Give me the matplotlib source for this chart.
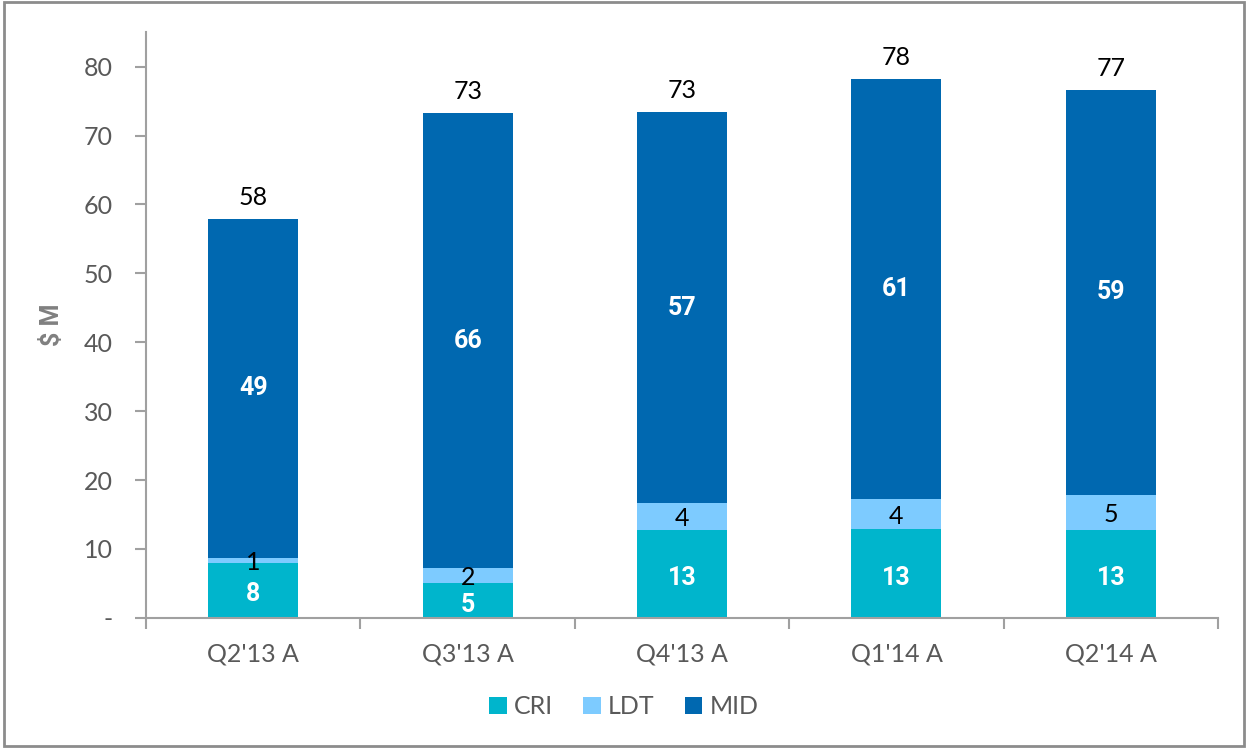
import matplotlib.pyplot as plt
import numpy as np
from matplotlib.patches import Rectangle

categories = ["Q2'13 A", "Q3'13 A", "Q4'13 A", "Q1'14 A", "Q2'14 A"]
cri = [8.0, 5.0, 12.7, 12.9, 12.7]
ldt = [0.7, 2.3, 3.9, 4.3, 5.2]
mid = [49.2, 65.9, 56.8, 61.0, 58.7]
cri_labels = ["8", "5", "13", "13", "13"]
ldt_labels = ["1", "2", "4", "4", "5"]
mid_labels = ["49", "66", "57", "61", "59"]
total_labels = ["58", "73", "73", "78", "77"]

colors = {"CRI": "#00B5CC", "LDT": "#7DCBFF", "MID": "#0068B0"}
gray = "#595959"
plt.rcParams["font.family"] = ["Lato", "DejaVu Sans"]
bold_family = ["Roboto", "DejaVu Sans"]

fig = plt.figure(figsize=(12.48, 7.48), dpi=100)
ax = fig.add_axes([0.117, 0.174, 0.859, 0.783])

x = np.arange(len(categories))
w = 0.42
cri_a = np.array(cri)
ldt_a = np.array(ldt)
mid_a = np.array(mid)

ax.bar(x, cri_a, w, color=colors["CRI"], label="CRI")
ax.bar(x, ldt_a, w, bottom=cri_a, color=colors["LDT"], label="LDT")
ax.bar(x, mid_a, w, bottom=cri_a + ldt_a, color=colors["MID"], label="MID")

for i in range(len(categories)):
    ax.text(x[i], cri_a[i] / 2 - 0.6, cri_labels[i], ha="center", va="center",
            color="white", fontsize=18, fontweight="bold", family=bold_family)
    ax.text(x[i], cri_a[i] + ldt_a[i] / 2 - 0.3, ldt_labels[i], ha="center", va="center",
            color="black", fontsize=18)
    ax.text(x[i], cri_a[i] + ldt_a[i] + mid_a[i] / 2, mid_labels[i], ha="center", va="center",
            color="white", fontsize=18, fontweight="bold", family=bold_family)
    total = cri_a[i] + ldt_a[i] + mid_a[i]
    ax.text(x[i], total + 1.5, total_labels[i], ha="center", va="bottom",
            color="black", fontsize=18)

ax.set_xlim(-0.5, len(categories) - 0.5)
ax.set_ylim(0, 85)
ax.set_yticks(np.arange(0, 81, 10))
ax.set_yticklabels(["-"] + [str(v) for v in range(10, 81, 10)])
ax.set_xticks(x)
ax.set_xticklabels(categories)
ax.set_xticks(np.arange(-0.5, len(categories), 1), minor=True)
ax.tick_params(axis="x", which="major", length=0, pad=18, labelsize=18, labelcolor=gray)
ax.tick_params(axis="x", which="minor", length=8, direction="out", color="#A0A0A0", width=1.5)
ax.tick_params(axis="y", length=8, direction="out", color="#A0A0A0", width=1.5,
               labelsize=18, labelcolor=gray, pad=16)

for s in ["top", "right"]:
    ax.spines[s].set_visible(False)
for s in ["left", "bottom"]:
    ax.spines[s].set_color("#A0A0A0")
    ax.spines[s].set_linewidth(1.5)

ax.set_ylabel("$ M", fontsize=18, fontweight="bold", color="#808080", labelpad=14,
              family=bold_family)

leg = fig.legend(loc="center", bbox_to_anchor=(0.5, 0.055), ncol=3, frameon=False,
                 fontsize=18, handlelength=0.7, handleheight=0.7, handletextpad=0.3,
                 columnspacing=1.2)
for t in leg.get_texts():
    t.set_color(gray)

fig.patches.append(Rectangle((0.003, 0.003), 0.994, 0.994, transform=fig.transFigure,
                             fill=False, edgecolor="#8C8C8C", linewidth=2))

fig.savefig("out.png", dpi=100)
